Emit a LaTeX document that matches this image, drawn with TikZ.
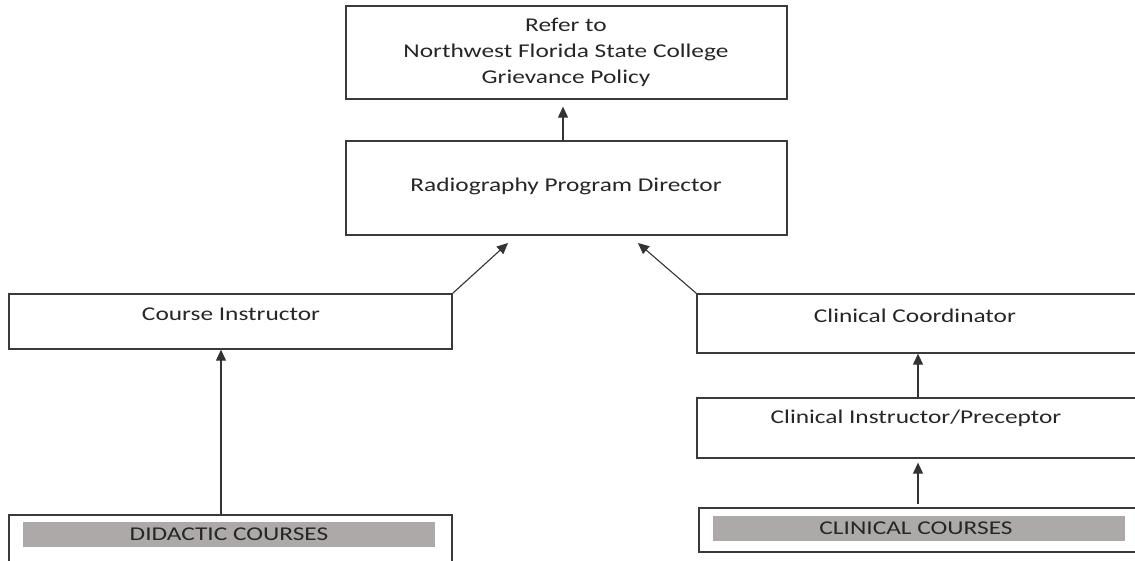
\documentclass[tikz,border=0pt]{standalone}
\usepackage{fontspec}
\setmainfont{Carlito}[FakeStretch=1.3]
\usetikzlibrary{arrows.meta,calc}
\definecolor{boxline}{HTML}{3A3A3A}
\definecolor{txt}{HTML}{262626}
\definecolor{bar}{HTML}{ADA9A8}
\tikzset{
  box/.style={draw=boxline, line width=1.3pt, rectangle, inner sep=0pt},
  graybar/.style={fill=bar, draw=none, rectangle, inner sep=0pt},
  lbl/.style={text=txt, font=\fontsize{19.5}{26}\selectfont, inner sep=0pt, align=center},
  arr/.style={draw=black!80, line width=1.1pt, -{Triangle[length=11pt,width=10pt]}}
}
\begin{document}
\begin{tikzpicture}[x=1pt,y=-1pt]
\useasboundingbox (0,0) rectangle (1135,560);
% boxes
\node[box, minimum width=441pt, minimum height=93pt] (top) at (566.5,52.5) {};
\node[box, minimum width=441pt, minimum height=94pt] (dir) at (566.5,188) {};
\node[box, minimum width=443pt, minimum height=55pt] (ci) at (230.5,321.5) {};
\node[box, minimum width=448pt, minimum height=59pt] (cc) at (921,323.5) {};
\node[box, minimum width=448pt, minimum height=60pt] (cip) at (921,428) {};
\node[box, minimum width=443pt, minimum height=60pt] (dc) at (230.5,545) {};
\node[box, minimum width=446pt, minimum height=44pt] (clc) at (922,530) {};
% gray bars
\node[graybar, minimum width=412pt, minimum height=25pt] (dbar) at (229,534.5) {};
\node[graybar, minimum width=412pt, minimum height=25pt] (cbar) at (919,528.5) {};
% texts
\node[lbl] (ttop) at (566,52) {Refer to\\Northwest Florida State College\\Grievance Policy};
\node[lbl] (tdir) at (566,186) {Radiography Program Director};
\node[lbl] (tci) at (231,314) {Course Instructor};
\node[lbl] (tcc) at (915,316) {Clinical Coordinator};
\node[lbl] (tcip) at (916,418) {Clinical Instructor/Preceptor};
\node[lbl] (tdc) at (229,534) {DIDACTIC COURSES};
\node[lbl] (tclc) at (916,528) {CLINICAL COURSES};
% connectors
\coordinate (tl) at (508,243);
\coordinate (tr) at (638,243);
\coordinate (ax) at (918,0);
\coordinate (ax2) at (563,0);
\coordinate (ax3) at (221,0);
\draw[arr, shorten >=7pt] (dir.north -| ax2) -- (top.south -| ax2);
\draw[arr] (ci.north east) -- (tl);
\draw[arr] (cc.north west) -- (tr);
\draw[arr] (dc.north -| ax3) -- (ci.south -| ax3);
\draw[arr] (cip.north -| ax) -- (cc.south -| ax);
\draw[arr, shorten <=3pt, shorten >=4pt] (clc.north -| ax) -- (cip.south -| ax);
\end{tikzpicture}
\end{document}
